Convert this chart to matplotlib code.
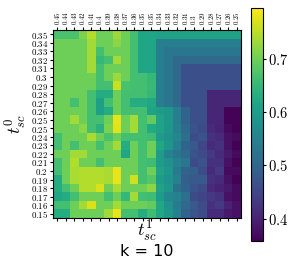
import numpy as np
import matplotlib
matplotlib.use("Agg")
import matplotlib.pyplot as plt

plt.rcParams['mathtext.fontset'] = 'cm'

x_labels = ["0.45", "0.44", "0.43", "0.42", "0.41", "0.4", "0.39", "0.38", "0.37", "0.36", "0.35",
            "0.35", "0.34", "0.33", "0.32", "0.31", "0.3", "0.29", "0.28", "0.27", "0.26", "0.25"]
y_labels = ["0.35", "0.34", "0.33", "0.32", "0.31", "0.3", "0.29", "0.28", "0.27", "0.26", "0.25",
            "0.25", "0.24", "0.23", "0.22", "0.21", "0.2", "0.19", "0.18", "0.17", "0.16", "0.15"]

# left block: rows 0-21, columns 0-10
left_block = [
    [0.67, 0.67, 0.67, 0.71, 0.745, 0.70, 0.70, 0.73, 0.70, 0.665, 0.615],
    [0.70, 0.70, 0.70, 0.70, 0.735, 0.70, 0.70, 0.72, 0.70, 0.665, 0.615],
    [0.70, 0.70, 0.70, 0.70, 0.735, 0.665, 0.70, 0.70, 0.70, 0.665, 0.615],
    [0.70, 0.70, 0.70, 0.70, 0.735, 0.65, 0.665, 0.735, 0.70, 0.665, 0.615],
    [0.70, 0.70, 0.70, 0.70, 0.735, 0.665, 0.70, 0.70, 0.70, 0.665, 0.615],
    [0.70, 0.70, 0.70, 0.70, 0.70, 0.665, 0.70, 0.73, 0.70, 0.665, 0.665],
    [0.70, 0.70, 0.70, 0.70, 0.70, 0.665, 0.665, 0.76, 0.67, 0.665, 0.665],
    [0.70, 0.70, 0.70, 0.70, 0.665, 0.63, 0.63, 0.70, 0.665, 0.665, 0.665],
    [0.70, 0.70, 0.665, 0.70, 0.665, 0.605, 0.665, 0.70, 0.665, 0.63, 0.63],
    [0.70, 0.70, 0.70, 0.70, 0.665, 0.605, 0.63, 0.70, 0.665, 0.665, 0.665],
    [0.70, 0.70, 0.735, 0.70, 0.665, 0.665, 0.70, 0.78, 0.70, 0.735, 0.665],
    [0.70, 0.70, 0.70, 0.72, 0.665, 0.64, 0.71, 0.775, 0.70, 0.735, 0.665],
    [0.665, 0.70, 0.70, 0.70, 0.74, 0.70, 0.67, 0.70, 0.665, 0.665, 0.665],
    [0.665, 0.70, 0.665, 0.70, 0.70, 0.665, 0.70, 0.735, 0.63, 0.70, 0.665],
    [0.70, 0.70, 0.735, 0.735, 0.70, 0.70, 0.70, 0.70, 0.615, 0.70, 0.665],
    [0.665, 0.70, 0.745, 0.70, 0.70, 0.665, 0.70, 0.70, 0.70, 0.70, 0.665],
    [0.665, 0.70, 0.74, 0.745, 0.745, 0.745, 0.74, 0.78, 0.70, 0.70, 0.665],
    [0.63, 0.70, 0.74, 0.745, 0.745, 0.745, 0.74, 0.78, 0.70, 0.765, 0.665],
    [0.63, 0.665, 0.70, 0.745, 0.745, 0.77, 0.70, 0.74, 0.70, 0.70, 0.70],
    [0.615, 0.63, 0.665, 0.70, 0.70, 0.70, 0.665, 0.70, 0.65, 0.735, 0.665],
    [0.665, 0.665, 0.70, 0.735, 0.77, 0.70, 0.70, 0.735, 0.70, 0.70, 0.70],
    [0.63, 0.63, 0.70, 0.70, 0.70, 0.70, 0.735, 0.78, 0.665, 0.665, 0.63],
]

# right block: rows 0-21, columns 11-21
right_block = [
    [0.615, 0.61, 0.61, 0.61, 0.61, 0.61, 0.61, 0.61, 0.61, 0.61, 0.61],
    [0.615, 0.545, 0.545, 0.545, 0.545, 0.545, 0.545, 0.545, 0.545, 0.545, 0.545],
    [0.615, 0.545, 0.53, 0.53, 0.53, 0.53, 0.53, 0.53, 0.53, 0.53, 0.53],
    [0.615, 0.545, 0.53, 0.51, 0.51, 0.51, 0.51, 0.51, 0.51, 0.51, 0.51],
    [0.615, 0.545, 0.53, 0.51, 0.465, 0.465, 0.465, 0.465, 0.465, 0.465, 0.465],
    [0.65, 0.545, 0.53, 0.51, 0.465, 0.465, 0.465, 0.465, 0.465, 0.465, 0.465],
    [0.655, 0.545, 0.53, 0.51, 0.465, 0.465, 0.465, 0.465, 0.465, 0.465, 0.465],
    [0.65, 0.545, 0.53, 0.51, 0.465, 0.465, 0.465, 0.405, 0.405, 0.405, 0.405],
    [0.62, 0.545, 0.53, 0.51, 0.465, 0.465, 0.465, 0.405, 0.405, 0.405, 0.405],
    [0.61, 0.60, 0.59, 0.545, 0.50, 0.465, 0.465, 0.405, 0.405, 0.362, 0.362],
    [0.69, 0.61, 0.59, 0.545, 0.50, 0.465, 0.465, 0.405, 0.405, 0.362, 0.362],
    [0.625, 0.61, 0.59, 0.55, 0.51, 0.47, 0.46, 0.41, 0.40, 0.37, 0.36],
    [0.66, 0.60, 0.58, 0.56, 0.52, 0.46, 0.47, 0.42, 0.41, 0.38, 0.37],
    [0.70, 0.62, 0.59, 0.545, 0.50, 0.48, 0.45, 0.41, 0.42, 0.38, 0.36],
    [0.70, 0.60, 0.55, 0.53, 0.51, 0.47, 0.46, 0.43, 0.41, 0.39, 0.37],
    [0.66, 0.60, 0.58, 0.55, 0.53, 0.46, 0.47, 0.42, 0.42, 0.38, 0.36],
    [0.70, 0.61, 0.59, 0.54, 0.50, 0.49, 0.46, 0.41, 0.43, 0.37, 0.37],
    [0.68, 0.60, 0.58, 0.55, 0.49, 0.48, 0.48, 0.42, 0.41, 0.38, 0.36],
    [0.72, 0.61, 0.59, 0.52, 0.50, 0.47, 0.46, 0.41, 0.40, 0.39, 0.37],
    [0.66, 0.60, 0.56, 0.55, 0.52, 0.46, 0.45, 0.43, 0.42, 0.38, 0.37],
    [0.69, 0.62, 0.58, 0.54, 0.51, 0.48, 0.46, 0.42, 0.43, 0.40, 0.38],
    [0.66, 0.62, 0.59, 0.55, 0.50, 0.47, 0.46, 0.41, 0.41, 0.39, 0.38],
]

data = np.hstack([np.array(left_block), np.array(right_block)])

fig = plt.figure(figsize=(2.99, 2.70), dpi=100)
ax = fig.add_axes([53/299, 1 - 218/270, 188/299, 188/270])
cax = fig.add_axes([251/299, 1 - 241/270, 12/299, 233/270])

im = ax.imshow(data, cmap='viridis', vmin=0.358, vmax=0.796, aspect='auto',
               interpolation='nearest')

ax.set_xticks(range(len(x_labels)))
ax.set_xticklabels(['$' + s + '$' for s in x_labels], rotation=90, fontsize=5.0)
ax.set_yticks(range(len(y_labels)))
ax.set_yticklabels(['$' + s + '$' for s in y_labels], fontsize=6.4)
ax.tick_params(axis='x', top=True, labeltop=True, bottom=True, labelbottom=False,
               length=2.5, width=0.8, pad=1)
ax.tick_params(axis='y', length=2.5, width=0.8, pad=1)

ax.set_xlabel('$t^1_{sc}$', fontsize=13, labelpad=-2)
ax.set_ylabel('$t^0_{sc}$', fontsize=13, labelpad=1)

cb = fig.colorbar(im, cax=cax)
cb.set_ticks([0.4, 0.5, 0.6, 0.7])
cb.set_ticklabels(['$0.4$', '$0.5$', '$0.6$', '$0.7$'])
cb.ax.tick_params(labelsize=10.5, length=2.5, width=0.8, pad=1)
cb.outline.set_linewidth(0.8)

fig.text(147/299, 1 - 252/270, 'k = 10', ha='center', va='center', fontsize=11.5)

fig.savefig('out.png', dpi=100)
